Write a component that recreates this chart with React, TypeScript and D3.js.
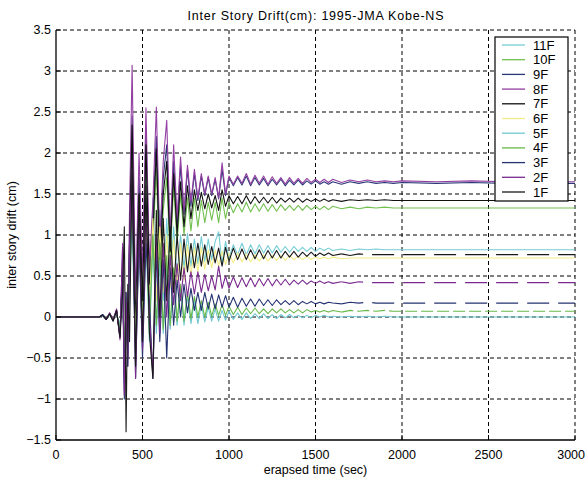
import React from 'react'
import * as d3 from 'd3'

// time grid (sec), shared by every floor
const TIME = [
  0, 250, 270, 290, 310, 330, 350, 370,
  385, 395, 405, 415, 425, 440,
  460, 480, 500, 520, 540, 560, 580, 600, 620, 640, 660, 680, 700, 720,
  740, 760, 780, 800, 820, 840, 860, 880, 900, 920, 940, 960, 980, 1000,
  1025, 1050, 1075, 1100, 1125, 1150, 1175, 1200, 1225, 1250, 1275, 1300,
  1325, 1350, 1375, 1400, 1425, 1450, 1475, 1500, 1525, 1550, 1575, 1600,
  1650, 1700, 1750, 1800, 1850, 1900, 1950, 2000,
  2200, 2400, 2600, 2800, 3000,
]

// inter story drift (cm)
const F11 = [
  0, 0, 0.01, -0.02, 0.03, -0.02, 0.05, -0.15,
  0.4, -0.5, 0.1, -0.3, 0.5, 1.5,
  -0.4, 1.2, -0.1, 1.5, 0.0, 1.45, 0.3, 1.3, 0.2, 1.2, 0.4, 1.1, 0.5, 1.0,
  0.6, 1.02, 0.62, 0.95, 0.65, 0.98, 0.68, 0.95, 0.7, 0.92, 1.04, 0.65, 0.92, 0.72,
  0.88, 0.76, 0.9, 0.76, 0.88, 0.77, 0.88, 0.78, 0.87, 0.78, 0.87, 0.79,
  0.86, 0.79, 0.86, 0.8, 0.85, 0.8, 0.85, 0.8, 0.84, 0.81, 0.84, 0.81,
  0.83, 0.81, 0.83, 0.82, 0.83, 0.82, 0.82, 0.82,
  0.82, 0.82, 0.82, 0.82, 0.82,
]
const F10 = [
  0, 0, 0.02, -0.02, 0.03, -0.03, 0.05, -0.18,
  0.5, -0.6, 0.1, -0.3, 0.8, 2.08,
  -0.3, 1.3, 0.1, 1.9, 0.3, 0.9, 1.8, 0.5, 1.3, 1.7, 0.7, 1.6, 0.9, 1.5,
  1.0, 1.45, 1.05, 1.45, 1.1, 1.42, 1.15, 1.4, 1.18, 1.4, 1.15, 1.45, 1.2, 1.4,
  1.27, 1.38, 1.28, 1.4, 1.28, 1.38, 1.29, 1.38, 1.29, 1.37, 1.29, 1.37,
  1.3, 1.36, 1.3, 1.36, 1.3, 1.36, 1.31, 1.35, 1.31, 1.35, 1.31, 1.35,
  1.32, 1.34, 1.32, 1.34, 1.33, 1.34, 1.33, 1.33,
  1.33, 1.33, 1.33, 1.33, 1.33,
]
const F9 = [
  0, 0, 0.03, -0.02, 0.04, -0.05, 0.08, -0.25,
  0.7, -0.8, 0.2, -0.5, 1.0, 2.45,
  0.0, 1.7, 0.3, 2.3, 0.5, 1.2, 2.2, 0.8, 1.7, 2.1, 0.9, 1.9, 1.1, 1.85,
  1.25, 1.8, 1.35, 1.75, 1.42, 1.72, 1.48, 1.7, 1.48, 1.68, 1.44, 1.8, 1.48, 1.7,
  1.6, 1.7, 1.61, 1.72, 1.6, 1.7, 1.61, 1.69, 1.6, 1.68, 1.61, 1.68,
  1.6, 1.67, 1.61, 1.67, 1.61, 1.66, 1.62, 1.66, 1.62, 1.65, 1.62, 1.65,
  1.62, 1.65, 1.63, 1.65, 1.63, 1.64, 1.63, 1.64,
  1.63, 1.64, 1.63, 1.63, 1.63,
]
const F8 = [
  0, 0, 0.02, -0.03, 0.05, -0.04, 0.1, -0.28,
  0.9, -0.9, 0.3, -0.6, 1.3, 3.07,
  0.2, 2.0, 0.5, 2.55, 0.6, 1.4, 2.56, 0.9, 1.9, 2.4, 1.0, 2.1, 1.2, 1.95,
  1.3, 1.85, 1.4, 1.8, 1.45, 1.75, 1.5, 1.72, 1.5, 1.7, 1.45, 1.88, 1.5, 1.72,
  1.62, 1.72, 1.63, 1.75, 1.62, 1.73, 1.63, 1.72, 1.62, 1.71, 1.63, 1.7,
  1.62, 1.7, 1.63, 1.69, 1.63, 1.69, 1.64, 1.68, 1.64, 1.68, 1.64, 1.68,
  1.64, 1.67, 1.65, 1.67, 1.65, 1.66, 1.65, 1.66,
  1.65, 1.66, 1.65, 1.65, 1.65,
]
const F7 = [
  0, 0, 0.02, -0.03, 0.03, -0.04, 0.06, -0.2,
  0.6, -0.7, 0.1, -0.4, 0.9, 2.34,
  -0.2, 1.5, 0.2, 2.1, 0.4, 1.0, 2.05, 0.6, 1.5, 1.9, 0.8, 1.75, 1.0, 1.65,
  1.1, 1.6, 1.2, 1.55, 1.3, 1.52, 1.32, 1.5, 1.33, 1.48, 1.3, 1.55, 1.35, 1.48,
  1.38, 1.47, 1.38, 1.48, 1.38, 1.47, 1.39, 1.46, 1.39, 1.46, 1.39, 1.45,
  1.4, 1.45, 1.4, 1.45, 1.4, 1.44, 1.41, 1.44, 1.41, 1.44, 1.41, 1.43,
  1.41, 1.43, 1.42, 1.43, 1.42, 1.43, 1.42, 1.42,
  1.42, 1.42, 1.42, 1.42, 1.42,
]
const F6 = [
  0, 0, 0.02, -0.01, 0.02, -0.03, 0.04, -0.12,
  0.3, -0.4, 0.0, -0.2, 0.4, 1.2,
  -0.3, 1.0, -0.2, 1.3, 0.1, 1.2, 0.2, 1.1, 0.3, 1.0, 0.35, 0.95, 0.4, 0.9,
  0.45, 0.88, 0.5, 0.85, 0.55, 0.85, 0.58, 0.82, 0.6, 0.82, 0.62, 0.8, 0.64, 0.78,
  0.66, 0.78, 0.67, 0.77, 0.67, 0.76, 0.68, 0.76, 0.68, 0.75, 0.69, 0.75,
  0.69, 0.75, 0.7, 0.74, 0.7, 0.74, 0.7, 0.73, 0.71, 0.73, 0.71, 0.73,
  0.71, 0.72, 0.72, 0.72, 0.72, 0.72, 0.72, 0.72,
  0.72, 0.72, 0.72, 0.72, 0.72,
]
const F5 = [
  0, 0, 0.01, -0.02, 0.02, -0.02, 0.04, -0.1,
  0.3, -0.5, 0.1, -0.4, 0.4, 1.1,
  -0.5, 0.9, -0.4, 1.0, -0.3, 0.9, -0.2, 0.7, -0.2, 0.6, -0.15, 0.45, -0.1, 0.35,
  -0.1, 0.25, -0.08, 0.2, -0.08, 0.15, -0.06, 0.12, -0.05, 0.1, -0.05, 0.08, -0.04, 0.07,
  -0.03, 0.05, -0.03, 0.05, -0.02, 0.04, -0.02, 0.04, -0.02, 0.03, -0.02, 0.03,
  -0.01, 0.03, -0.01, 0.02, -0.01, 0.02, -0.01, 0.02, 0.0, 0.02, 0.0, 0.01,
  0.0, 0.01, 0.0, 0.01, 0.0, 0.01, 0.0, 0.0,
  0, 0, 0, 0, 0,
]
const F4 = [
  0, 0, 0.02, -0.01, 0.03, -0.02, 0.05, -0.15,
  0.5, -0.6, 0.2, -0.3, 0.6, 1.4,
  -0.4, 1.1, -0.3, 1.2, -0.2, 1.0, -0.1, 0.9, -0.15, 0.75, -0.1, 0.6, -0.05, 0.4,
  -0.05, 0.3, -0.02, 0.25, 0.0, 0.2, 0.0, 0.18, 0.01, 0.16, 0.02, 0.15, 0.02, 0.13,
  0.03, 0.12, 0.03, 0.11, 0.04, 0.11, 0.04, 0.1, 0.04, 0.1, 0.05, 0.1,
  0.05, 0.09, 0.05, 0.09, 0.05, 0.09, 0.06, 0.08, 0.06, 0.08, 0.06, 0.08,
  0.06, 0.08, 0.07, 0.08, 0.07, 0.08, 0.07, 0.07,
  0.07, 0.07, 0.07, 0.07, 0.07,
]
const F3 = [
  0, 0, 0.03, -0.02, 0.04, -0.04, 0.07, -0.22,
  0.6, -1.0, 0.3, -0.6, 0.8, 1.6,
  -0.75, 1.0, -0.5, 0.9, 0.2, -0.75, 0.8, -0.3, 0.7, -0.5, 0.6, -0.1, 0.45, 0.0,
  0.4, 0.05, 0.35, 0.08, 0.3, 0.08, 0.3, 0.1, 0.28, 0.1, 0.27, 0.12, 0.26, 0.12,
  0.24, 0.12, 0.23, 0.13, 0.22, 0.13, 0.22, 0.14, 0.21, 0.14, 0.21, 0.15,
  0.2, 0.15, 0.2, 0.15, 0.19, 0.16, 0.19, 0.16, 0.18, 0.16, 0.18, 0.17,
  0.16, 0.18, 0.17, 0.18, 0.17, 0.17, 0.17, 0.17,
  0.17, 0.17, 0.17, 0.17, 0.17,
]
const F2 = [
  0, 0, 0.02, -0.03, 0.05, -0.03, 0.09, -0.26,
  0.85, -0.95, 0.2, -0.5, 0.9, 1.8,
  -0.75, 1.2, -0.4, 1.3, 0.0, -0.7, 1.0, -0.2, 0.9, 0.0, 0.75, 0.15, 0.65, 0.2,
  0.6, 0.25, 0.55, 0.28, 0.55, 0.3, 0.52, 0.32, 0.5, 0.33, 0.62, 0.35, 0.5, 0.35,
  0.49, 0.36, 0.48, 0.37, 0.48, 0.37, 0.47, 0.38, 0.47, 0.38, 0.46, 0.39,
  0.46, 0.39, 0.45, 0.4, 0.45, 0.4, 0.44, 0.41, 0.44, 0.41, 0.43, 0.41,
  0.43, 0.41, 0.43, 0.42, 0.42, 0.42, 0.42, 0.42,
  0.42, 0.42, 0.42, 0.42, 0.42,
]
const F1 = [
  0, 0, 0.02, -0.03, 0.04, -0.05, 0.08, -0.25,
  0.3, 1.1, -1.4, 0.4, -0.3, 1.9,
  -0.6, 1.5, -0.3, 1.6, -0.2, -0.75, 1.3, 0.0, 1.2, 0.2, 1.1, 0.3, 1.0, 0.45,
  0.95, 0.55, 0.9, 0.6, 0.9, 0.62, 0.88, 0.64, 0.86, 0.66, 0.84, 0.62, 0.85, 0.68,
  0.84, 0.7, 0.83, 0.7, 0.82, 0.71, 0.82, 0.71, 0.81, 0.72, 0.81, 0.72,
  0.8, 0.73, 0.8, 0.73, 0.79, 0.74, 0.79, 0.74, 0.78, 0.75, 0.78, 0.75,
  0.77, 0.75, 0.77, 0.76, 0.76, 0.76, 0.76, 0.76,
  0.76, 0.76, 0.76, 0.76, 0.76,
]

const FLOORS = ['11F', '10F', '9F', '8F', '7F', '6F', '5F', '4F', '3F', '2F', '1F']
const COLORS = [
  '#74ccd4', '#72c050', '#2b3878', '#9440a2', '#111111', '#f2ec86',
  '#6fc8d2', '#66b84a', '#243270', '#7a2a8e', '#1a1a1a',
]
const VALUES = [F11, F10, F9, F8, F7, F6, F5, F4, F3, F2, F1]
// floors whose tail looks broken up in the original figure
const BROKEN_TAIL = ['4F', '3F', '2F', '1F']
const TAIL_FROM = 1650

const X_TICKS = [0, 500, 1000, 1500, 2000, 2500, 3000]
const Y_TICKS = [-1.5, -1, -0.5, 0, 0.5, 1, 1.5, 2, 2.5, 3, 3.5]

const width = 587
const height = 480
const margin = { top: 30, right: 12, bottom: 40, left: 56 }
const innerW = width - margin.left - margin.right
const innerH = height - margin.top - margin.bottom
const font = '"Liberation Sans", Arial, sans-serif'

export default function App() {
  const x = d3.scaleLinear().domain([0, 3000]).range([0, innerW])
  const y = d3.scaleLinear().domain([-1.5, 3.5]).range([innerH, 0])

  const line = d3.line<[number, number]>()
    .x(d => x(d[0]))
    .y(d => y(d[1]))

  const series = FLOORS.map((name, k) => {
    const pts = TIME.map((t, i) => [t, VALUES[k][i]] as [number, number])
    const broken = BROKEN_TAIL.includes(name)
    return {
      name,
      color: COLORS[k],
      head: broken ? pts.filter(p => p[0] <= TAIL_FROM) : pts,
      tail: broken ? pts.filter(p => p[0] >= TAIL_FROM) : [],
      dash: name === '4F' ? '12,4' : '22,9',
    }
  })

  return (
    <svg width={width} height={height}
      style={{ position: 'absolute', left: 0, top: 0, background: '#fff' }}>
      <text x={margin.left + innerW / 2} y={20} textAnchor="middle"
        fontFamily={font} fontSize={12.5} textLength={256}>
        Inter Story Drift(cm): 1995-JMA Kobe-NS
      </text>

      <g transform={`translate(${margin.left},${margin.top})`}>
        {/* dashed grid */}
        {X_TICKS.filter(t => t > 0).map(t => (
          <line key={'gx' + t} x1={x(t)} x2={x(t)} y1={0} y2={innerH}
            stroke="#000" strokeDasharray="4,3" strokeWidth={1} />
        ))}
        {Y_TICKS.filter(t => t > -1.5).map(t => (
          <line key={'gy' + t} x1={0} x2={innerW} y1={y(t)} y2={y(t)}
            stroke="#000" strokeDasharray="4,3" strokeWidth={1} />
        ))}

        {series.map(s => (
          <g key={s.name}>
            <path d={line(s.head) || ''} fill="none"
              stroke={s.color} strokeWidth={1.1} strokeLinejoin="round" />
            {s.tail.length > 0 && (
              <path d={line(s.tail) || ''} fill="none" stroke={s.color}
                strokeWidth={1.2} strokeDasharray={s.dash} />
            )}
          </g>
        ))}

        {/* axes */}
        <line x1={0} x2={0} y1={0} y2={innerH} stroke="#000" strokeWidth={1.3} />
        <line x1={0} x2={innerW} y1={innerH} y2={innerH} stroke="#000" strokeWidth={1.3} />
        {X_TICKS.map(t => {
          const last = t === 3000
          return (
            <g key={'tx' + t} transform={`translate(${x(t)},${innerH})`}>
              <line y1={0} y2={-5} stroke="#000" />
              <text x={last ? 10 : 0} y={19} textAnchor={last ? 'end' : 'middle'}
                fontFamily={font} fontSize={12.5}>{t}</text>
            </g>
          )
        })}
        {Y_TICKS.map(t => (
          <g key={'ty' + t} transform={`translate(0,${y(t)})`}>
            <line x1={0} x2={5} stroke="#000" />
            <text x={-5} dy="0.35em" textAnchor="end" fontFamily={font} fontSize={12.5}>
              {t < 0 ? '\u2212' + Math.abs(t) : String(t)}
            </text>
          </g>
        ))}

        {/* legend */}
        <g transform={`translate(${495 - margin.left},${37 - margin.top})`}>
          <rect x={0} y={0} width={73} height={164} fill="#fff" stroke="#000" strokeWidth={1.2} />
          {series.map((s, i) => (
            <g key={'lg' + s.name} transform={`translate(0,${8 + i * 14.7})`}>
              <line x1={7} x2={30} y1={0} y2={0} stroke={s.color} strokeWidth={1.3} />
              <text x={38} dy="0.35em" fontFamily={font} fontSize={13}>{s.name}</text>
            </g>
          ))}
        </g>
      </g>

      <text x={margin.left + innerW / 2} y={474} textAnchor="middle"
        fontFamily={font} fontSize={12.5}>erapsed time (sec)</text>
      <text transform={`translate(16,${margin.top + innerH / 2}) rotate(-90)`}
        textAnchor="middle" fontFamily={font} fontSize={12.5}>inter story drift (cm)</text>
    </svg>
  )
}
